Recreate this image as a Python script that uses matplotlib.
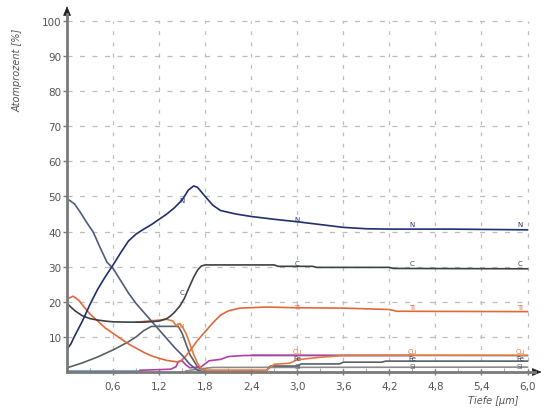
import matplotlib
matplotlib.use("Agg")
import matplotlib.pyplot as plt
import numpy as np

# ---- data (depth in µm, atomic percent) ----
n_x = [0, 0.05, 0.1, 0.2, 0.3, 0.4, 0.5, 0.6, 0.7, 0.8, 0.9, 1.0, 1.1, 1.2, 1.3, 1.4, 1.5, 1.58, 1.65, 1.7, 1.8, 1.9, 2.0, 2.2, 2.4, 2.7, 3.0, 3.3, 3.6, 3.9, 4.2, 5.0, 6.0]
n_y = [6.5, 8.0, 10.3, 14.5, 19.3, 23.6, 27.2, 30.5, 34.0, 37.3, 39.3, 40.7, 42.0, 43.5, 45.0, 46.8, 49.0, 51.8, 53.0, 52.6, 50.0, 47.5, 46.0, 45.0, 44.3, 43.5, 42.8, 42.0, 41.2, 40.8, 40.7, 40.7, 40.5]

o_x = [0, 0.04, 0.1, 0.17, 0.25, 0.34, 0.43, 0.52, 0.6, 0.7, 0.8, 0.9, 1.0, 1.1, 1.2, 1.3, 1.4, 1.5, 1.6, 1.7, 1.8]
o_y = [49.3, 48.8, 47.8, 45.6, 42.8, 39.9, 35.5, 31.3, 29.5, 26.0, 22.5, 19.5, 17.0, 14.5, 12.0, 9.5, 7.0, 4.8, 2.2, 0.5, 0.0]

c_x = [0, 0.1, 0.2, 0.3, 0.4, 0.5, 0.6, 0.8, 1.0, 1.2, 1.3, 1.35, 1.4, 1.47, 1.53, 1.58, 1.65, 1.7, 1.75, 1.8, 2.0, 2.7, 2.75, 3.2, 3.25, 4.2, 4.25, 6.0]
c_y = [19.5, 17.5, 16.0, 15.2, 14.8, 14.5, 14.3, 14.2, 14.2, 14.5, 15.2, 16.0, 17.0, 18.8, 21.0, 23.6, 27.0, 29.0, 30.2, 30.5, 30.5, 30.5, 30.1, 30.1, 29.8, 29.8, 29.5, 29.4]

ti_x = [0, 0.08, 0.15, 0.23, 0.3, 0.4, 0.5, 0.6, 0.7, 0.8, 0.9, 1.0, 1.1, 1.2, 1.3, 1.4, 1.45, 1.5, 1.55, 1.6, 1.7, 1.8, 1.9, 2.0, 2.1, 2.25, 2.6, 3.0, 3.6, 4.2, 4.3, 6.0]
ti_y = [20.8, 21.6, 20.5, 18.3, 16.5, 14.5, 12.5, 11.0, 9.5, 8.0, 6.8, 5.6, 4.6, 3.9, 3.3, 3.0, 2.8, 3.5, 4.6, 6.0, 9.0, 11.5, 14.0, 16.2, 17.4, 18.2, 18.5, 18.3, 18.2, 17.8, 17.3, 17.2]

cu_x = [0.9, 1.2, 1.3, 1.38, 1.42, 1.47, 1.5, 1.55, 1.6, 1.65, 1.7, 1.75, 1.8, 2.6, 2.7, 2.9, 3.0, 3.3, 3.6, 4.5, 6.0]
cu_y = [14.2, 14.8, 15.0, 14.5, 13.2, 13.8, 13.0, 11.0, 8.0, 5.0, 2.5, 1.0, 0.5, 0.5, 2.2, 2.5, 3.5, 4.2, 4.7, 4.8, 4.8]

fe_x = [0.95, 1.35, 1.42, 1.45, 1.5, 1.55, 1.6, 1.75, 1.85, 2.0, 2.1, 2.3, 4.5]
fe_y = [0.5, 0.8, 1.5, 3.0, 3.2, 2.0, 1.2, 1.5, 3.2, 3.6, 4.4, 4.7, 4.7]

gr_x = [2.4, 4.5, 6.0]
gr_y = [4.9, 4.7, 4.6]

cr_x = [0, 0.2, 0.4, 0.6, 0.8, 0.9, 1.0, 1.1, 1.45, 1.5, 1.55, 1.6, 1.7, 1.8, 2.6, 2.65, 3.0, 3.05, 3.55, 3.6, 4.1, 4.15, 6.0]
cr_y = [1.2, 2.6, 4.3, 6.3, 8.6, 10.0, 11.8, 13.0, 13.0, 11.0, 8.0, 5.0, 1.5, 0.4, 0.4, 1.7, 1.7, 2.3, 2.3, 2.8, 2.8, 3.1, 3.1]

si_x = [1.55, 1.7, 1.9, 6.0]
si_y = [0.3, 0.8, 1.3, 1.4]

bl_x = [0, 0.95]
bl_y = [0.2, 0.2]

x_ticks = [0.6, 1.2, 1.8, 2.4, 3.0, 3.6, 4.2, 4.8, 5.4, 6.0]
x_tick_labels = ["0,6", "1,2", "1,8", "2,4", "3,0", "3,6", "4,2", "4,8", "5,4", "6,0"]
y_ticks = [10, 20, 30, 40, 50, 60, 70, 80, 90, 100]

fig = plt.figure(figsize=(5.45, 4.14), dpi=100)
ax = fig.add_axes([0.123, 0.099, 0.859, 0.865])
ax.set_xlim(0, 6.1)
ax.set_ylim(0, 102)

for xv in x_ticks:
    ax.plot([xv, xv], [0, 100], color="#bdbdbd", lw=0.9, dashes=(3, 6), zorder=1)
for yv in y_ticks:
    ax.plot([0, 6.0], [yv, yv], color="#bdbdbd", lw=0.9, dashes=(4, 6), zorder=1)

lw = 1.2
ax.plot(bl_x, bl_y, color="#6a8fc8", lw=lw, zorder=2)
ax.plot(si_x, si_y, color="#8a8a8a", lw=lw, zorder=2)
ax.plot(cr_x, cr_y, color="#5a5f66", lw=lw, zorder=2)
ax.plot(gr_x, gr_y, color="#a8a8a8", lw=lw, zorder=2)
ax.plot(fe_x, fe_y, color="#b040a8", lw=lw, zorder=3)
ax.plot(cu_x, cu_y, color="#e07a40", lw=lw, zorder=3)
ax.plot(ti_x, ti_y, color="#e0683a", lw=lw, zorder=3)
ax.plot(o_x, o_y, color="#4e5b7e", lw=lw, zorder=3)
ax.plot(c_x, c_y, color="#3c4048", lw=lw, zorder=4)
ax.plot(n_x, n_y, color="#1f2f70", lw=lw, zorder=4)

lab = dict(fontsize=5, ha="center", va="bottom", zorder=6)
for xv in [3.0, 4.5, 5.9]:
    ax.text(xv, 41.2 if xv > 3 else 42.6, "N", color="#1f2f70", **lab)
    ax.text(xv, 30.3, "C", color="#3c4048", **lab)
    ax.text(xv, 17.8, "Ti", color="#e0683a", **lab)
    ax.text(xv, 5.0, "Cu", color="#e07a40", **lab)
    ax.text(xv, 3.0, "Fe", color="#3c4048", **lab)
    ax.text(xv, 1.0, "Si", color="#5a5f66", **lab)
ax.text(1.5, 48.0, "N", color="#1f2f70", **lab)
ax.text(1.5, 22.0, "C", color="#3c4048", **lab)
ax.text(1.47, 12.5, "Cu", color="#e07a40", **lab)

for s in ["top", "right"]:
    ax.spines[s].set_visible(False)
for s in ["left", "bottom"]:
    ax.spines[s].set_color("#7a7a7a")
    ax.spines[s].set_linewidth(2)
    ax.spines[s].set_zorder(5)

ax.set_xticks(x_ticks)
ax.set_xticklabels(x_tick_labels)
ax.set_yticks(y_ticks)
ax.set_xticks(np.arange(0.3, 6.0, 0.6), minor=True)
ax.tick_params(axis="both", colors="#7a7a7a", labelcolor="#555555", labelsize=7.5, width=1, length=3)
ax.tick_params(axis="x", direction="inout", length=5, pad=4)
ax.tick_params(axis="x", which="minor", direction="in", length=3, color="#9a9a9a")
ax.tick_params(axis="y", direction="out", length=3, pad=1)

# arrowheads
ax.annotate("", xy=(0, 105), xytext=(0, 99), xycoords="data", annotation_clip=False,
            arrowprops=dict(arrowstyle="-|>,head_width=0.25,head_length=0.6", color="#222222", lw=0.5))
ax.annotate("", xy=(6.22, 0), xytext=(6.05, 0), xycoords="data", annotation_clip=False,
            arrowprops=dict(arrowstyle="-|>,head_width=0.25,head_length=0.6", color="#222222", lw=0.5))

fig.text(0.032, 0.83, "Atomprozent [%]", rotation=90, fontsize=7, style="italic",
         color="#555555", ha="center", va="center")
fig.text(0.905, 0.032, "Tiefe [µm]", fontsize=7, style="italic", color="#555555",
         ha="center", va="center")

fig.savefig("out.png", dpi=100)
